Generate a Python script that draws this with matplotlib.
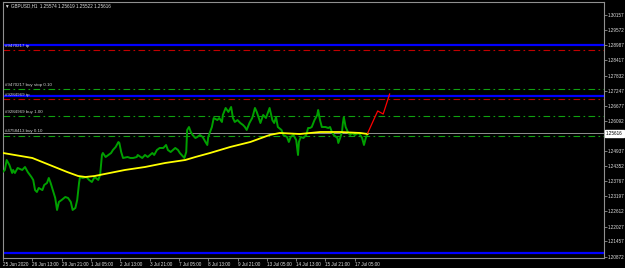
import matplotlib
matplotlib.use("Agg")
import matplotlib.pyplot as plt

plt.rcParams['font.family'] = ['Liberation Sans', 'DejaVu Sans']

# GBPUSD H1 closes (bar index, price)
bars = [0, 2, 4, 7, 10, 11, 13, 16, 21, 24, 27, 31, 33, 35, 37, 39, 43, 45, 48, 50,
        52, 55, 57, 59, 61, 64, 68, 71, 74, 76, 79, 81, 83, 84, 87, 91, 94, 97, 100, 104,
        106, 108, 109, 112, 115, 118, 120, 123, 126, 127, 129, 131, 136, 139, 142, 146, 147, 152, 155, 158,
        163, 165, 168, 171, 175, 178, 180, 183, 188, 191, 193, 195, 198, 200, 201, 203, 205, 207, 210, 212,
        215, 218, 221, 223, 224, 226, 228, 230, 234, 236, 239, 240, 243, 246, 249, 251, 253, 256, 259, 262,
        264, 266, 269, 272, 273, 275, 277, 281, 284, 287, 289, 291, 294, 296, 298, 300, 304, 306, 310, 312,
        314, 317, 320, 322, 323, 325, 328, 331, 333, 335, 337, 340, 343, 344, 346, 348, 352, 355, 357, 359,
        361, 365, 366, 368, 370, 371, 372, 374, 377, 379, 381, 384, 388, 390, 392, 394, 396, 398]
close = [1.24138, 1.24203, 1.24587, 1.24395, 1.24088, 1.24203, 1.24088, 1.24280, 1.24203, 1.24318,
         1.24126, 1.23934, 1.23819, 1.23431, 1.23358, 1.23512, 1.23431, 1.23627, 1.23704, 1.23896,
         1.23704, 1.23358, 1.23127, 1.22667, 1.22974, 1.23051, 1.23165, 1.23127, 1.22974, 1.22667,
         1.22744, 1.23051, 1.23704, 1.23934, 1.23896, 1.23934, 1.23819, 1.23742, 1.23934, 1.23819,
         1.24011, 1.24779, 1.24856, 1.24702, 1.24779, 1.24856, 1.24971, 1.25087, 1.25279, 1.25240,
         1.24894, 1.24664, 1.24702, 1.24664, 1.24664, 1.24702, 1.24779, 1.24664, 1.24779, 1.24702,
         1.24856, 1.24779, 1.24971, 1.25048, 1.25048, 1.25163, 1.24971, 1.24894, 1.25048, 1.24971,
         1.24856, 1.24779, 1.24664, 1.24894, 1.25739, 1.25854, 1.25662, 1.25547, 1.25432, 1.25470,
         1.25547, 1.25470, 1.25279, 1.25163, 1.25470, 1.25662, 1.25854, 1.26200, 1.26121, 1.26200,
         1.26047, 1.26316, 1.26585, 1.26432, 1.26623, 1.26200, 1.26047, 1.26121, 1.26008, 1.25931,
         1.25854, 1.25739, 1.26008, 1.26200, 1.26316, 1.26585, 1.26432, 1.26008, 1.26316, 1.26200,
         1.26392, 1.26585, 1.26121, 1.26008, 1.26239, 1.25854, 1.25739, 1.25547, 1.25470, 1.25279,
         1.25470, 1.25547, 1.25356, 1.24779, 1.25279, 1.25470, 1.25432, 1.25547, 1.25816, 1.25816,
         1.25854, 1.26121, 1.26316, 1.26508, 1.26121, 1.25854, 1.25854, 1.25816, 1.25854, 1.25662,
         1.25547, 1.25432, 1.25240, 1.25432, 1.25662, 1.26008, 1.26239, 1.25854, 1.25624, 1.25547,
         1.25624, 1.25547, 1.25624, 1.25547, 1.25432, 1.25163, 1.25432, 1.25616]

# moving average (yellow)
ma_bars = [0, 32, 51, 70, 82, 90, 100, 111, 133, 155, 177, 199, 210, 226, 248, 270, 291, 302,
           313, 324, 346, 368, 390, 398]
ma_vals = [1.24856, 1.24664, 1.24395, 1.24126, 1.23972, 1.23934, 1.23972, 1.24049, 1.24203, 1.24318,
           1.24472, 1.24587, 1.24702, 1.24856, 1.25087, 1.25279, 1.25547, 1.25624, 1.25605, 1.25585,
           1.25662, 1.25662, 1.25624, 1.25585]

# drawn projection (red)
proj_bars = [398, 409, 415, 422]
proj_vals = [1.25616, 1.26470, 1.26354, 1.27122]

# order levels
tp_levels = [1.29005, 1.27026, 1.21003]          # blue
sl_levels = [1.28812, 1.26942]                   # red dash-dot
entry_levels = [1.27303, 1.26277, 1.25520]       # green dash-dot
order_labels = ["#9470217 tp", "#9470217 buy stop 0.10", "#9284969 tp",
                "#9284969 buy 1.00", "#4758413 buy 0.10"]
order_label_prices = [1.28900, 1.27380, 1.27000, 1.26355, 1.25610]
last_price = 1.25616

ytick_vals = [1.30157, 1.29572, 1.28987, 1.28417, 1.27832, 1.27247, 1.26677, 1.26092,
              1.24937, 1.24352, 1.23767, 1.23197, 1.22612, 1.22027, 1.21457, 1.20872]
xtick_bars = [0, 32, 64, 96, 128, 160, 192, 224, 256, 288, 320, 352, 384]
xtick_labels = ["25 Jun 2020", "26 Jun 13:00", "29 Jun 21:00", "1 Jul 05:00", "2 Jul 13:00",
                "3 Jul 21:00", "7 Jul 05:00", "8 Jul 13:00", "9 Jul 21:00", "13 Jul 05:00",
                "14 Jul 13:00", "15 Jul 21:00", "17 Jul 05:00"]
title = "\u25bc GBPUSD,H1  1.25574 1.25619 1.25522 1.25616"

fig = plt.figure(figsize=(6.25, 2.68), dpi=100, facecolor="black")
ax = fig.add_axes([3/625, 10/268, 601/625, 256/268])
ax.set_facecolor("black")
ax.set_xlim(0, 656)
ax.set_ylim(1.20822, 1.30656)

dashdot = (0, (6, 3, 1.5, 3))
for p in tp_levels:
    ax.axhline(p, color="#0000ff", lw=1.6, zorder=2)
for p in sl_levels:
    ax.axhline(p, color="#c00000", lw=0.8, ls=dashdot, zorder=2)
for p in entry_levels:
    ax.axhline(p, color="#10a010", lw=0.8, ls=dashdot, zorder=2)
ax.axhline(last_price, color="#909090", lw=0.7, zorder=2)

for lab, p in zip(order_labels, order_label_prices):
    ax.text(2, p, lab, color="#d0d0d0", fontsize=3.2, va="bottom", ha="left", zorder=5)

ax.plot(bars, close, color="#00a000", lw=1.4, zorder=3)
ax.plot(ma_bars, ma_vals, color="#ffff00", lw=1.3, zorder=4)
ax.plot(proj_bars, proj_vals, color="#ff0000", lw=0.9, zorder=4)

ax.yaxis.tick_right()
ax.set_yticks(ytick_vals)
ax.set_yticklabels(["%.5f" % v for v in ytick_vals])
ax.set_xticks(xtick_bars)
ax.set_xticklabels(xtick_labels, ha="left")
ax.tick_params(axis="both", colors="#909090", labelcolor="#e0e0e0", labelsize=3.3,
               length=2, width=0.6, pad=1)
for s in ax.spines.values():
    s.set_color("#909090")
    s.set_linewidth(0.8)

ax.text(1.0 + 2/601, last_price, "%.5f" % last_price, transform=ax.get_yaxis_transform(),
        fontsize=3.3, color="black", va="center", ha="left",
        bbox=dict(boxstyle="square,pad=0.2", fc="white", ec="white"))

fig.text(5/625, 1 - 6/268, title, color="#e0e0e0", fontsize=3.3, va="center", ha="left")

fig.savefig("out.png", dpi=100, facecolor="black")
